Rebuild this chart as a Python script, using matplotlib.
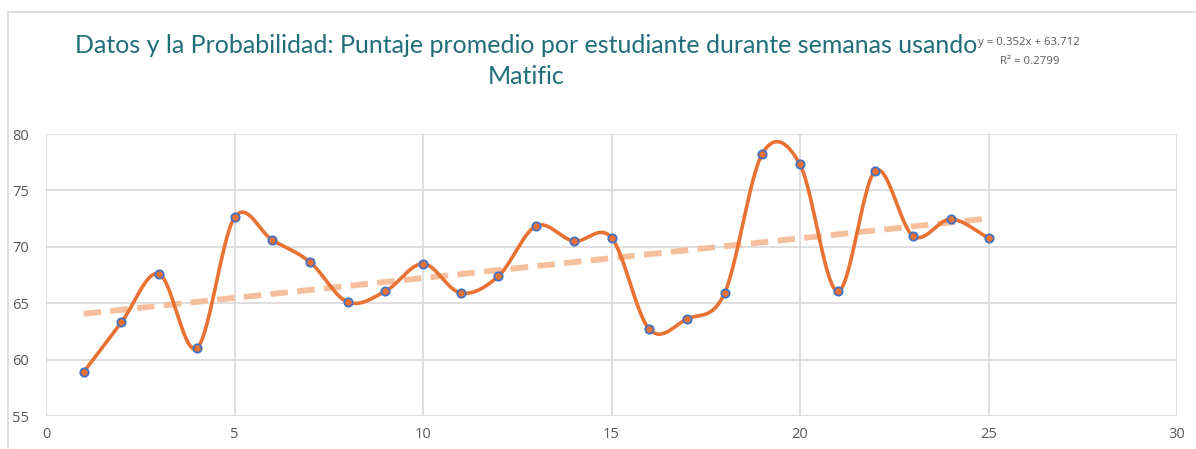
import matplotlib.pyplot as plt
import matplotlib.patches as mpatches
import numpy as np

# weeks and average score per student
semanas = list(range(1, 26))
puntaje = [58.9, 63.3, 67.6, 61.0, 72.6, 70.6, 68.65, 65.1, 66.05, 68.5,
           65.9, 67.4, 71.85, 70.5, 70.8, 62.7, 63.6, 65.9, 78.25, 77.3,
           66.05, 76.75, 70.95, 72.45, 70.8]
pendiente, intercepto = 0.352, 63.712
titulo = 'Datos y la Probabilidad: Puntaje promedio por estudiante durante semanas usando\nMatific'
x_ticks = [0, 5, 10, 15, 20, 25, 30]
y_ticks = [55, 60, 65, 70, 75, 80]


def catmull_rom(x, y, n=30):
    # smooth curve through the points, like excel's smoothed line
    x = np.asarray(x, float)
    y = np.asarray(y, float)
    px = np.concatenate([[2 * x[0] - x[1]], x, [2 * x[-1] - x[-2]]])
    py = np.concatenate([[2 * y[0] - y[1]], y, [2 * y[-1] - y[-2]]])
    xs, ys = [], []
    t = np.linspace(0, 1, n)
    for i in range(1, len(px) - 2):
        for p, out in ((px, xs), (py, ys)):
            p0, p1, p2, p3 = p[i - 1], p[i], p[i + 1], p[i + 2]
            out.extend(0.5 * ((2 * p1) + (-p0 + p2) * t +
                              (2 * p0 - 5 * p1 + 4 * p2 - p3) * t ** 2 +
                              (-p0 + 3 * p1 - 3 * p2 + p3) * t ** 3))
    return np.array(xs), np.array(ys)


plt.rcParams['font.family'] = ['Open Sans', 'DejaVu Sans']

fig = plt.figure(figsize=(11.96, 4.49), dpi=100)
ax = fig.add_axes([46 / 1196, 1 - 416 / 449, (1177 - 46) / 1196, (416 - 134) / 449])

# outer chart border
fig.patches.append(mpatches.Rectangle((8 / 1196, -0.01), 1.0, 1 - 12 / 449 + 0.01,
                                      transform=fig.transFigure, fill=False,
                                      edgecolor='#d9d9d9', lw=1.2))

xs, ys = catmull_rom(semanas, puntaje)
ax.plot(xs, ys, color='#e97132', lw=2.6, zorder=3)
ax.plot(semanas, puntaje, 'o', color='#e97132', markersize=6,
        markeredgecolor='#4472c4', markeredgewidth=1.3, zorder=4)

tx = np.array([semanas[0], semanas[-1]])
ax.plot(tx, pendiente * tx + intercepto, color='#f5bf9c', lw=4.2,
        dashes=(3, 1.6), zorder=2)

ax.set_xlim(0, 30)
ax.set_ylim(55, 80)
ax.set_xticks(x_ticks)
ax.set_yticks(y_ticks)
ax.grid(True, color='#d9d9d9', lw=1.2)
ax.set_axisbelow(True)
for s in ax.spines.values():
    s.set_visible(False)
ax.tick_params(length=0, labelsize=10.5, labelcolor='#595959', pad=8)
ax.tick_params(axis='y', pad=12)

fig.text(0.44, 1 - 61 / 449, titulo, ha='center', va='center', fontsize=18,
         color='#1f6e7a', linespacing=1.4, family=['Lato', 'DejaVu Sans'])
fig.text(978 / 1196, 1 - 42 / 449, 'y = 0.352x + 63.712', ha='left', va='center',
         fontsize=8.2, color='#595959')
fig.text(1000 / 1196, 1 - 61 / 449, 'R² = 0.2799', ha='left', va='center',
         fontsize=8.2, color='#595959')

fig.savefig('out.png', dpi=100)
